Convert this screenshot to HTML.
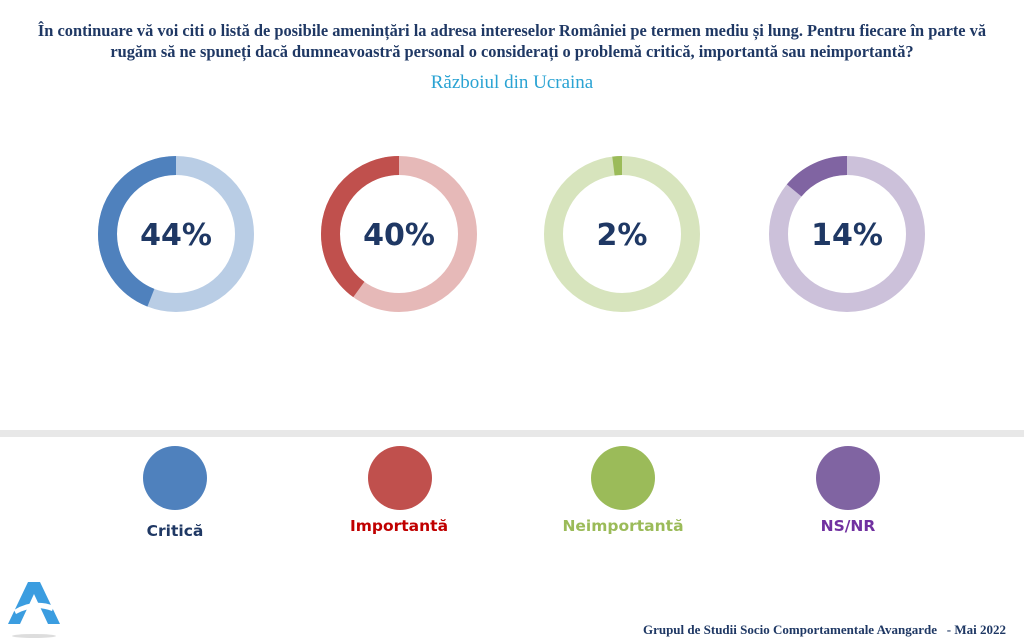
<!DOCTYPE html>
<html><head><meta charset="utf-8"><style>
body{margin:0;width:1024px;height:640px;background:#fff;overflow:hidden;position:relative;font-family:"Liberation Serif",serif}
.t{position:absolute;left:0;width:1024px;text-align:center;color:#1f3864;font-weight:bold;font-size:16.4px;line-height:21px;top:20px;white-space:nowrap}
.s{position:absolute;left:0;width:1024px;text-align:center;color:#2aa3d3;font-size:19px;top:72px}
.f{position:absolute;right:18px;top:622px;color:#1f3864;font-weight:bold;font-size:13px}
</style></head><body>
<div class="t">În continuare vă voi citi o listă de posibile amenințări la adresa intereselor României pe termen mediu și lung. Pentru fiecare în parte vă<br>rugăm să ne spuneți dacă dumneavoastră personal o considerați o problemă critică, importantă sau neimportantă?</div>
<div class="s">Războiul din Ucraina</div>
<svg width="1024" height="640" style="position:absolute;left:0;top:0" font-family="DejaVu Sans, sans-serif">
<g fill="none" stroke-width="19">
<circle cx="176" cy="234" r="68.5" stroke="#b9cde5"/>
<circle cx="176" cy="234" r="68.5" stroke="#4f81bd" stroke-dasharray="189.4 500" transform="translate(176 234) scale(-1 1) rotate(-90) translate(-176 -234)"/>
<circle cx="399" cy="234" r="68.5" stroke="#e6b9b8"/>
<circle cx="399" cy="234" r="68.5" stroke="#c0504d" stroke-dasharray="172.2 500" transform="translate(399 234) scale(-1 1) rotate(-90) translate(-399 -234)"/>
<circle cx="622" cy="234" r="68.5" stroke="#d7e4bd"/>
<circle cx="622" cy="234" r="68.5" stroke="#9bbb59" stroke-dasharray="8.6 500" transform="translate(622 234) scale(-1 1) rotate(-90) translate(-622 -234)"/>
<circle cx="847" cy="234" r="68.5" stroke="#ccc1da"/>
<circle cx="847" cy="234" r="68.5" stroke="#8064a2" stroke-dasharray="60.3 500" transform="translate(847 234) scale(-1 1) rotate(-90) translate(-847 -234)"/>
</g>
<g fill="#1f3864" font-weight="bold" font-size="30" text-anchor="middle">
<text x="176" y="245">44%</text><text x="399" y="245">40%</text><text x="622" y="245">2%</text><text x="847" y="245">14%</text>
</g>
<rect x="0" y="430" width="1024" height="7" fill="#e8e8e8"/>
<circle cx="175" cy="478" r="32" fill="#4f81bd"/>
<circle cx="400" cy="478" r="32" fill="#c0504d"/>
<circle cx="623" cy="478" r="32" fill="#9bbb59"/>
<circle cx="848" cy="478" r="32" fill="#8064a2"/>
<g font-weight="bold" font-size="15.5" text-anchor="middle">
<text x="175" y="536" fill="#1f3864">Critică</text>
<text x="399" y="531" fill="#c00000">Importantă</text>
<text x="623" y="531" fill="#9bbb59">Neimportantă</text>
<text x="848" y="531" fill="#7030a0">NS/NR</text>
</g>
<path d="M28 582 L40 582 L60 624 L48 624 L34 594 L20 624 L8 624 Z" fill="#3b9de0"/>
<path d="M14 610 Q34 598 54 606 L52 611 Q34 604 16 614 Z" fill="#fff"/>
<ellipse cx="34" cy="636" rx="22" ry="2" fill="#ddd"/>
</svg>
<div class="f">Grupul de Studii Socio Comportamentale Avangarde &nbsp;&nbsp;- Mai 2022</div>
</body></html>
